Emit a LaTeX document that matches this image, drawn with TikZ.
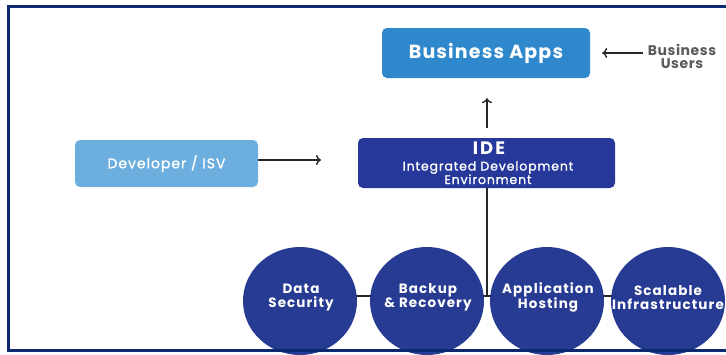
\documentclass[tikz,border=0pt]{standalone}
\usepackage{fontspec}
\setmainfont{Poppins}
\usetikzlibrary{shapes.geometric,backgrounds,arrows.meta}
\definecolor{appblue}{HTML}{2F88CC}
\definecolor{idenavy}{HTML}{26399A}
\definecolor{devblue}{HTML}{6CAEDD}
\definecolor{circnavy}{HTML}{283B93}
\definecolor{frame}{HTML}{0E2A6E}
\definecolor{usergray}{HTML}{5A5A5A}
\newcommand{\fsz}[3]{\fontsize{#1}{#2}\selectfont\addfontfeatures{LetterSpace=#3}}
\newcommand{\fszm}[3]{\fontsize{#1}{#2}\selectfont\addfontfeatures{LetterSpace=#3,FakeBold=1.2}}
\tikzset{
  box/.style={rectangle, rounded corners=5pt, text=white, align=center, inner sep=0pt},
  pillar/.style={ellipse, fill=circnavy, minimum width=114pt, minimum height=108pt, inner sep=0pt},
  pillartext/.style={text=white, align=center, inner sep=0pt, font=\bfseries\fsz{13.5}{14}{8}},
  idetext/.style={text=white, inner sep=0pt, anchor=base},
  conn/.style={draw=black!85, line width=1.4pt},
  arr/.style={conn, -{To[length=5pt,width=10pt]}},
  framel/.style={draw=frame, line width=3.5pt}
}
\begin{document}
\begin{tikzpicture}[x=1pt,y=-1pt]
\useasboundingbox (0,0) rectangle (726,354);
\clip (0,0) rectangle (726,354);
\node[box, fill=appblue, minimum width=208pt, minimum height=50pt, font=\bfseries\fsz{19}{20}{6}] (apps) at (486,53) {Business Apps};
\node[text=usergray, align=center, font=\bfseries\fsz{14}{13}{4}, inner sep=0pt] (users) at (682,56) {Business\\Users};
\node[box, fill=idenavy, minimum width=257pt, minimum height=50pt] (ide) at (486.5,163) {};
\node[idetext, font=\bfseries\fsz{18}{18}{12}] (idet1) at (489,154.5) {IDE};
\node[idetext, font=\fszm{12.5}{14}{7}] (idet2) at (488,170.5) {Integrated Development};
\node[idetext, font=\fszm{12.5}{14}{7}] (idet3) at (488,184) {Environment};
\node[box, fill=devblue, minimum width=183pt, minimum height=47pt, font=\fszm{14}{15}{7}] (dev) at (166.5,163.5) {Developer / ISV};
\node[pillar] (c1) at (300,301) {};
\node[pillar] (c2) at (427,301) {};
\node[pillar] (c3) at (547,301) {};
\node[pillar] (c4) at (668,301) {};
\node[pillartext] (c1t) at (301,297.5) {Data\\Security};
\node[pillartext] (c2t) at (428,297.5) {Backup\\\& Recovery};
\node[pillartext] (c3t) at (548,297.5) {Application\\Hosting};
\node[pillartext] (c4t) at (668,297.5) {Scalable\\Infrastructure};
\coordinate (junc) at (487,296);
\coordinate (devend) at (321,160);
\coordinate (usersend) at (643,53);
\begin{scope}[on background layer]
\draw[conn] (c1.center |- junc) -- (c4.center |- junc);
\draw[conn] (ide.south -| junc) -- (junc);
\end{scope}
\draw[arr] (dev.east |- devend) -- (devend);
\draw[arr, shorten <=10pt, shorten >=20pt] (ide.north -| junc) -- (apps.south -| junc);
\draw[arr] (usersend) -- ([xshift=12pt]apps.east |- usersend);
\draw[framel] (7,6.5) -- (726,6.5);
\draw[framel] (8.5,5) -- (8.5,352);
\draw[framel] (7,350.5) -- (726,350.5);
\end{tikzpicture}
\end{document}
